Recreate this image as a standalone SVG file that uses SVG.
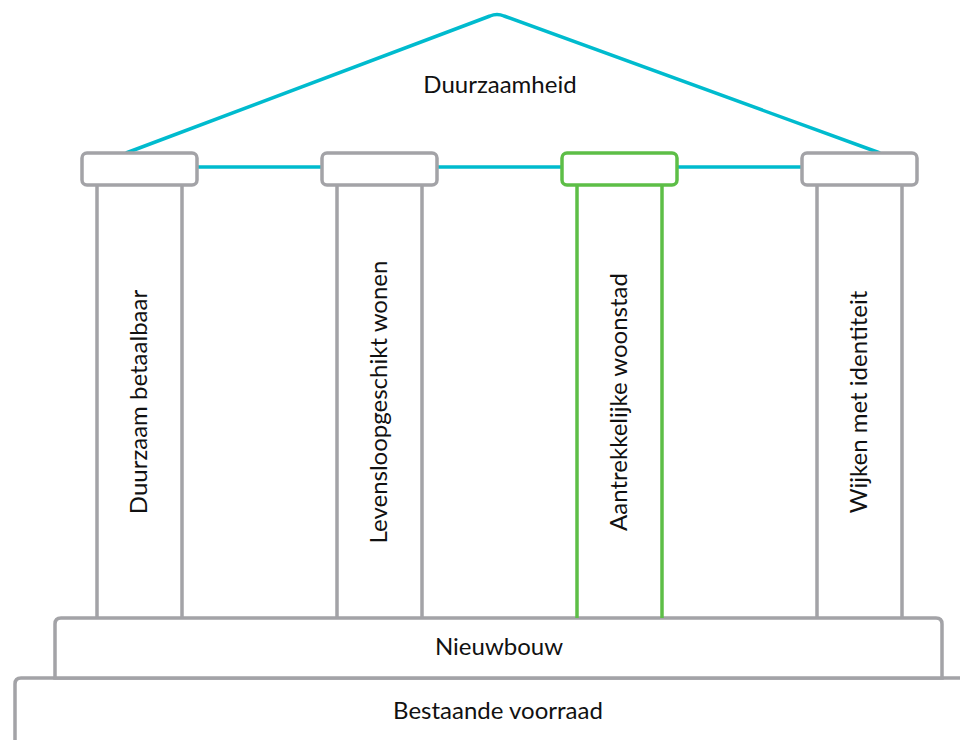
<svg xmlns="http://www.w3.org/2000/svg" width="960" height="740" viewBox="0 0 960 740">
<style>
.t{font-family:Lato,"Open Sans","Liberation Sans",sans-serif;font-size:24px;fill:#111;text-anchor:middle}
.g{fill:#fff;stroke:#A3A3A7;stroke-width:3.5}
.gr{fill:#fff;stroke:#5DBE47;stroke-width:3.5}
.teal{fill:none;stroke:#00BBCE;stroke-width:3.5;stroke-linejoin:round}
</style>
<rect width="960" height="740" fill="#fff"/>
<g id="connectors">
<path class="teal" d="M126,153 L490,16 Q497,13 504,16 L880,153"/>
<line class="teal" x1="196" y1="167" x2="802" y2="167"/>
</g>
<g id="roof"><text class="t" x="500" y="93">Duurzaamheid</text></g>
<g id="base2"><path class="g" d="M15,742 V684 Q15,678 21,678 H962"/><text class="t" x="498" y="719">Bestaande voorraad</text></g>
<g id="base1"><path class="g" d="M55,678 V624 Q55,618 61,618 H936 Q942,618 942,624 V678 Z"/><text class="t" x="499" y="655">Nieuwbouw</text></g>
<g id="pillar1">
<path class="g" d="M97,618 V185 M182,185 V618"/>
<rect class="g" x="82" y="153" width="115" height="32" rx="5"/>
<text class="t" transform="translate(147,402) rotate(-90)">Duurzaam betaalbaar</text>
</g>
<g id="pillar2">
<path class="g" d="M337,618 V185 M422,185 V618"/>
<rect class="g" x="322" y="153" width="115" height="32" rx="5"/>
<text class="t" transform="translate(387,402) rotate(-90)">Levensloopgeschikt wonen</text>
</g>
<g id="pillar3">
<path class="gr" d="M577,618 V185 M662,185 V618"/>
<rect class="gr" x="562" y="153" width="115" height="32" rx="5"/>
<text class="t" transform="translate(627,402) rotate(-90)">Aantrekkelijke woonstad</text>
</g>
<g id="pillar4">
<path class="g" d="M817,618 V185 M902,185 V618"/>
<rect class="g" x="802" y="153" width="115" height="32" rx="5"/>
<text class="t" transform="translate(867,402) rotate(-90)">Wijken met identiteit</text>
</g>
</svg>
